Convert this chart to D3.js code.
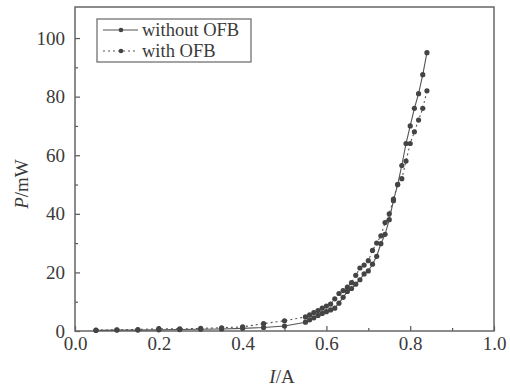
<!DOCTYPE html>
<html>
<head>
<meta charset="utf-8">
<script src="https://cdnjs.cloudflare.com/ajax/libs/d3/7.8.5/d3.min.js"></script>
<style>
	body { margin: 0; background: #fff; }
	svg text { font-family: "Liberation Serif", "DejaVu Serif", serif; fill: #3a3a3a; }
</style>
</head>
<body>
<div id="chart"></div>
<script>
// current values (A)
var current = [0.05, 0.10, 0.15, 0.20, 0.25, 0.30, 0.35, 0.40, 0.45, 0.50,
	0.55, 0.56, 0.57, 0.58, 0.59, 0.60, 0.61, 0.62, 0.63, 0.64,
	0.65, 0.66, 0.67, 0.68, 0.69, 0.70, 0.71, 0.72, 0.73, 0.74,
	0.75, 0.76, 0.77, 0.78, 0.79, 0.80, 0.81, 0.82, 0.83, 0.84];

// power (mW)
var withoutOFB = [0.2, 0.3, 0.3, 0.4, 0.5, 0.6, 0.7, 0.9, 1.2, 1.7,
	3.0, 3.8, 4.5, 5.3, 6.0, 6.6, 7.2, 7.8, 9.5, 11.5,
	13.5, 14.5, 16.0, 17.5, 19.5, 20.5, 22.8, 25.5, 29.8, 33.0,
	38.0, 44.5, 50.0, 56.5, 64.0, 70.0, 76.0, 81.0, 87.5, 95.0];

var withOFB = [0.3, 0.4, 0.5, 0.8, 0.7, 0.9, 1.1, 1.4, 2.5, 3.5,
	4.8, 5.5, 6.3, 7.0, 7.8, 8.5, 9.2, 11.0, 12.8, 13.8,
	15.0, 16.5, 19.0, 21.5, 22.5, 24.0, 27.5, 30.0, 32.5, 37.0,
	40.0, 45.0, 50.0, 52.0, 58.0, 64.0, 68.0, 72.0, 76.0, 82.0];

var xTicks = [0, 0.2, 0.4, 0.6, 0.8, 1.0],
	yTicks = [0, 20, 40, 60, 80, 100],
	legendLabels = ["without OFB", "with OFB"];

var layout = { w: 510, h: 391, left: 75, right: 494, top: 7, bottom: 331 };

var svg = d3.select("#chart").append("svg")
	.attr("width", layout.w)
	.attr("height", layout.h);

var xScale = d3.scaleLinear().domain([0, 1]).range([layout.left, layout.right]),
	yScale = d3.scaleLinear().domain([0, 110.6]).range([layout.bottom, layout.top]);

var axisColor = "#555";

// bottom axis, ticks pointing inward
var xAxis = svg.append("g")
	.attr("transform", "translate(0," + layout.bottom + ")")
	.call(d3.axisBottom(xScale).tickValues(xTicks).tickSize(-5).tickPadding(6)
		.tickFormat(d3.format(".1f")));
xAxis.select(".domain").remove();
xAxis.selectAll("text").attr("font-size", 19);

svg.append("g")
	.attr("transform", "translate(0," + layout.bottom + ")")
	.call(d3.axisBottom(xScale).tickValues([0.1, 0.3, 0.5, 0.7, 0.9]).tickSize(-3).tickFormat(""))
	.select(".domain").remove();

var yAxis = svg.append("g")
	.attr("transform", "translate(" + layout.left + ",0)")
	.call(d3.axisLeft(yScale).tickValues(yTicks).tickSize(-5).tickPadding(10));
yAxis.select(".domain").remove();
yAxis.selectAll("text").attr("font-size", 19);

svg.append("g")
	.attr("transform", "translate(" + layout.left + ",0)")
	.call(d3.axisLeft(yScale).tickValues([10, 30, 50, 70, 90]).tickSize(-3).tickFormat(""))
	.select(".domain").remove();

svg.selectAll(".tick line").attr("stroke", axisColor).attr("stroke-width", 1.2);

// frame
svg.append("rect")
	.attr("x", layout.left)
	.attr("y", layout.top)
	.attr("width", layout.right - layout.left)
	.attr("height", layout.bottom - layout.top)
	.attr("fill", "none")
	.attr("stroke", "#666")
	.attr("stroke-width", 1.5);

// series
var series = [
	{ name: legendLabels[0], values: withoutOFB, dash: null },
	{ name: legendLabels[1], values: withOFB, dash: "2,3" }
];

var line = d3.line()
	.x(function(d){ return xScale(d[0]); })
	.y(function(d){ return yScale(d[1]); });

series.forEach(function(s){
	var pts = current.map(function(c, i){ return [c, s.values[i]]; });
	svg.append("path")
		.datum(pts)
		.attr("d", line)
		.attr("fill", "none")
		.attr("stroke", "#555")
		.attr("stroke-width", 1.1)
		.attr("stroke-dasharray", s.dash);
	svg.append("g").selectAll("circle")
		.data(pts)
		.enter().append("circle")
		.attr("cx", function(d){ return xScale(d[0]); })
		.attr("cy", function(d){ return yScale(d[1]); })
		.attr("r", 2.6)
		.attr("fill", "#444");
});

// legend
var legend = svg.append("g");
legend.append("rect")
	.attr("x", 97).attr("y", 19)
	.attr("width", 154).attr("height", 43)
	.attr("fill", "#fff")
	.attr("stroke", "#666")
	.attr("stroke-width", 1.2);

series.forEach(function(s, i){
	var cy = 30 + i * 21;
	legend.append("line")
		.attr("x1", 103).attr("x2", 138)
		.attr("y1", cy).attr("y2", cy)
		.attr("stroke", "#555")
		.attr("stroke-width", 1.1)
		.attr("stroke-dasharray", s.dash);
	legend.append("circle")
		.attr("cx", 121).attr("cy", cy).attr("r", 2.3).attr("fill", "#444");
	legend.append("text")
		.attr("x", 142).attr("y", cy)
		.attr("dy", "0.33em")
		.attr("font-size", 18.5)
		.text(s.name);
});

// axis titles
svg.append("text")
	.attr("transform", "translate(28,184) rotate(-90)")
	.attr("text-anchor", "middle")
	.attr("font-size", 19)
	.html('<tspan font-style="italic">P</tspan>/mW');

svg.append("text")
	.attr("x", 282).attr("y", 383)
	.attr("text-anchor", "middle")
	.attr("font-size", 19)
	.html('<tspan font-style="italic">I</tspan>/A');
</script>
</body>
</html>
